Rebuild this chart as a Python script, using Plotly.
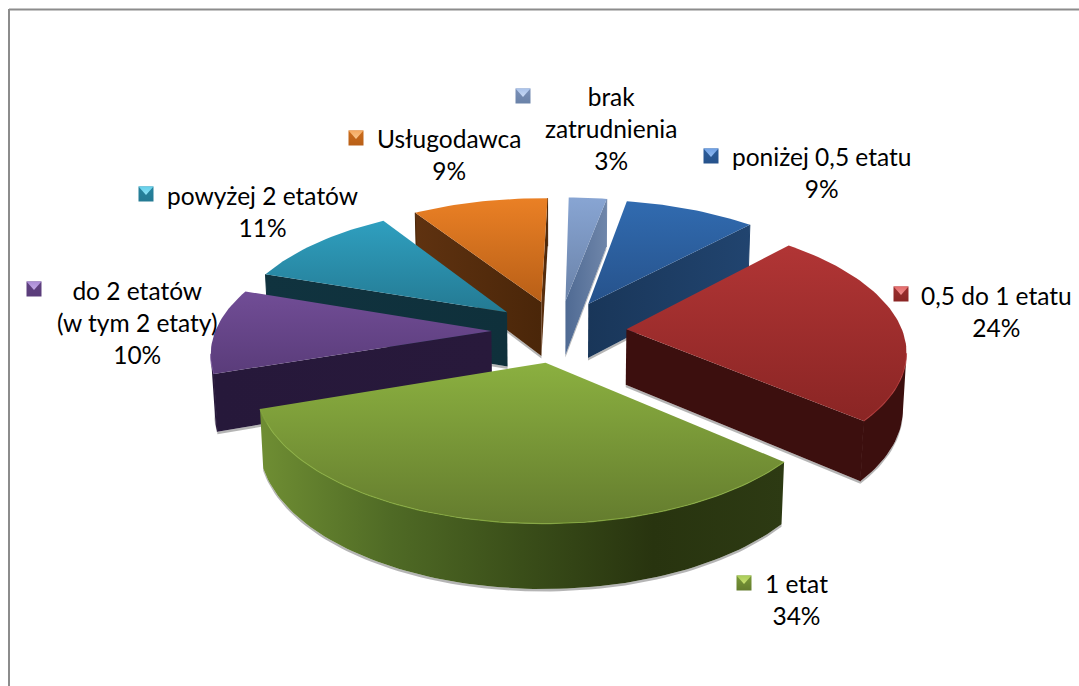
import math
import plotly.graph_objects as go

# ---- data ----
categories = ["brak<br>zatrudnienia", "poniżej 0,5 etatu", "0,5 do 1 etatu", "1 etat",
              "do 2 etatów<br>(w tym 2 etaty)", "powyżej 2 etatów", "Usługodawca"]
values = [2.6, 9.0, 24.5, 33.4, 10.5, 10.7, 9.3]
percent_labels = ["3%", "9%", "24%", "34%", "10%", "11%", "9%"]

# ---- styles ----
top_light = ["#88A5D3", "#316BB0", "#B13535", "#8BB040", "#714D96", "#2F9FBF", "#EA8025"]
top_dark = ["#6A82A8", "#26528B", "#8A2524", "#647C2E", "#5A3C7A", "#247A93", "#B85F17"]
wall_stops = [
    ["#4F6A93", "#6F86AA"],
    ["#193659", "#21446F"],
    ["#3C0F0E", "#3C0F0E"],
    ["#6F8E33", "#4F6A25", "#3A4E19", "#28340F", "#2D3A13"],
    ["#26183A", "#28193B"],
    ["#10333F", "#0F303B"],
    ["#5F3210", "#4A2609"],
]
key_base = ["#7A90B8", "#2B5D9B", "#9B3030", "#7A9A38", "#5F4080", "#26839E", "#CC6D1C"]
key_tip_a = ["#A9C2EA", "#6FA0E4", "#E46A6A", "#A9CC5A", "#A98AD4", "#63CFEA", "#F5A85E"]
key_tip_b = ["#C9DAF5", "#8FBAF2", "#F09090", "#C9E070", "#C2A8E6", "#8FE2F5", "#F8C48A"]
key_pos = [(523, 96), (711, 156), (901, 294), (744, 583), (34, 289), (146, 194), (356, 138)]
label_pos = [(611, 128), (821, 172), (996, 311), (796, 599), (137, 322), (262, 211), (449, 154)]

# ---- projection of the pie ----
CX, CY, A, B, K, H, M, PULL = 559, 331, 276, 127, 0.147, 56, 0.01, 0.245
START = math.radians(1.0)


def project(x, y, bottom=False):
    w = 1 + K * y + (M if bottom else 0)
    return CX + A * x / w, CY + (-B * y + (H if bottom else 0)) / w


fig = go.Figure()


def face(xy, grad=None, kind="vertical", color=None):
    xs = [p[0] for p in xy] + [xy[0][0]]
    ys = [p[1] for p in xy] + [xy[0][1]]
    t = dict(x=xs, y=ys, mode="lines", fill="toself", line=dict(width=0),
             hoverinfo="skip", showlegend=False)
    if grad:
        vals = ys if kind == "vertical" else xs
        lo, hi = min(vals), max(vals)
        if hi - lo < 1:
            hi = lo + 1
        last = len(grad) - 1
        t["fillgradient"] = dict(type=kind, start=lo, stop=hi,
                                 colorscale=[[j / last, c] for j, c in enumerate(grad)])
        t["fillcolor"] = grad[0]
    else:
        t["fillcolor"] = color
    fig.add_trace(go.Scatter(**t))


total = sum(values)
cum = 0
slices = []
for i, v in enumerate(values):
    s = START + 2 * math.pi * cum / total
    e = START + 2 * math.pi * (cum + v) / total
    cum += v
    slices.append((math.cos((s + e) / 2), i, s, e))
slices.sort(reverse=True)

SHADOW = "rgba(90,90,90,0.45)"
for _, i, s, e in slices:
    m = (s + e) / 2
    px, py = PULL * math.sin(m), PULL * math.cos(m)
    n = max(8, int((e - s) * 40))
    angs = [s + (e - s) * j / n for j in range(n + 1)]
    rim3 = [(px + math.sin(a), py + math.cos(a)) for a in angs]
    rim_top = [project(*p) for p in rim3]
    rim_bot = [project(*p, bottom=True) for p in rim3]
    ap_top, ap_bot = project(px, py), project(px, py, True)
    mid_top = rim_top[n // 2]

    # soft shadow and outer wall, only where the rim faces the viewer
    vis = [j for j in range(n) if rim_top[j + 1][0] < rim_top[j][0]]
    grad = wall_stops[i]
    if vis:
        a0, a1 = vis[0], vis[-1] + 1
        wall = rim_top[a0:a1 + 1] + rim_bot[a0:a1 + 1][::-1]
        face([(x, y + 2.5) for x, y in rim_bot[a0:a1 + 1]] + rim_bot[a0:a1 + 1][::-1], color=SHADOW)
        face(wall, grad=grad, kind="horizontal")

    # straight cut walls
    for rt, rb in ((rim_top[0], rim_bot[0]), (rim_top[-1], rim_bot[-1])):
        ex, ey = rt[0] - ap_top[0], rt[1] - ap_top[1]
        vx, vy = mid_top[0] - ap_top[0], mid_top[1] - ap_top[1]
        if (ex * vy - ey * vx) * ex < 0:
            face([(x, y + 2.5) for x, y in (ap_bot, rb)] + [rb, ap_bot], color=SHADOW)
            face([ap_top, rt, rb, ap_bot], grad=grad, kind="horizontal")
            # closes the hairline between the cut wall and the outer wall
            fig.add_trace(go.Scatter(x=[rt[0], rb[0]], y=[rt[1], rb[1]], mode="lines",
                                     line=dict(color=grad[-1], width=1),
                                     hoverinfo="skip", showlegend=False))

    # top face
    face([ap_top] + rim_top, grad=[top_light[i], top_dark[i]], kind="vertical")
    if vis:
        a0, a1 = vis[0], vis[-1] + 1
        fig.add_trace(go.Scatter(x=[p[0] for p in rim_top[a0:a1 + 1]], y=[p[1] for p in rim_top[a0:a1 + 1]],
                                 mode="lines", line=dict(color=top_light[i], width=1.2),
                                 opacity=0.75, hoverinfo="skip", showlegend=False))

# legend keys
KH = 7.5
for i, (kx, ky) in enumerate(key_pos):
    face([(kx - KH, ky - KH), (kx + KH, ky - KH), (kx + KH, ky + KH), (kx - KH, ky + KH)],
         grad=[key_base[i], top_dark[i]], kind="vertical")
    face([(kx - KH, ky - KH), (kx + KH, ky - KH), (kx, ky + 1)],
         grad=[key_tip_a[i], key_tip_b[i]], kind="vertical")

annotations = [
    dict(x=x, y=y, xref="x", yref="y", text=f"{c}<br>{p}", showarrow=False,
         xanchor="center", yanchor="middle", align="center",
         font=dict(family="Lato, Carlito, sans-serif", size=24.5, color="#000000"))
    for c, p, (x, y) in zip(categories, percent_labels, label_pos)
]

fig.update_layout(
    width=1079, height=686, margin=dict(l=0, r=0, t=0, b=0),
    paper_bgcolor="white", plot_bgcolor="white", showlegend=False,
    xaxis=dict(range=[0, 1079], visible=False, fixedrange=True),
    yaxis=dict(range=[686, 0], visible=False, fixedrange=True),
    annotations=annotations,
    shapes=[
        dict(type="line", xref="x", yref="y", x0=9, x1=1079, y0=9.5, y1=9.5, line=dict(color="#8C8C8C", width=2)),
        dict(type="line", xref="x", yref="y", x0=9, x1=9, y0=9, y1=686, line=dict(color="#8C8C8C", width=2)),
    ],
)
fig.write_html("out.html", config=dict(displayModeBar=False),
               post_script="document.body.style.margin='0';document.body.style.overflow='hidden';")
